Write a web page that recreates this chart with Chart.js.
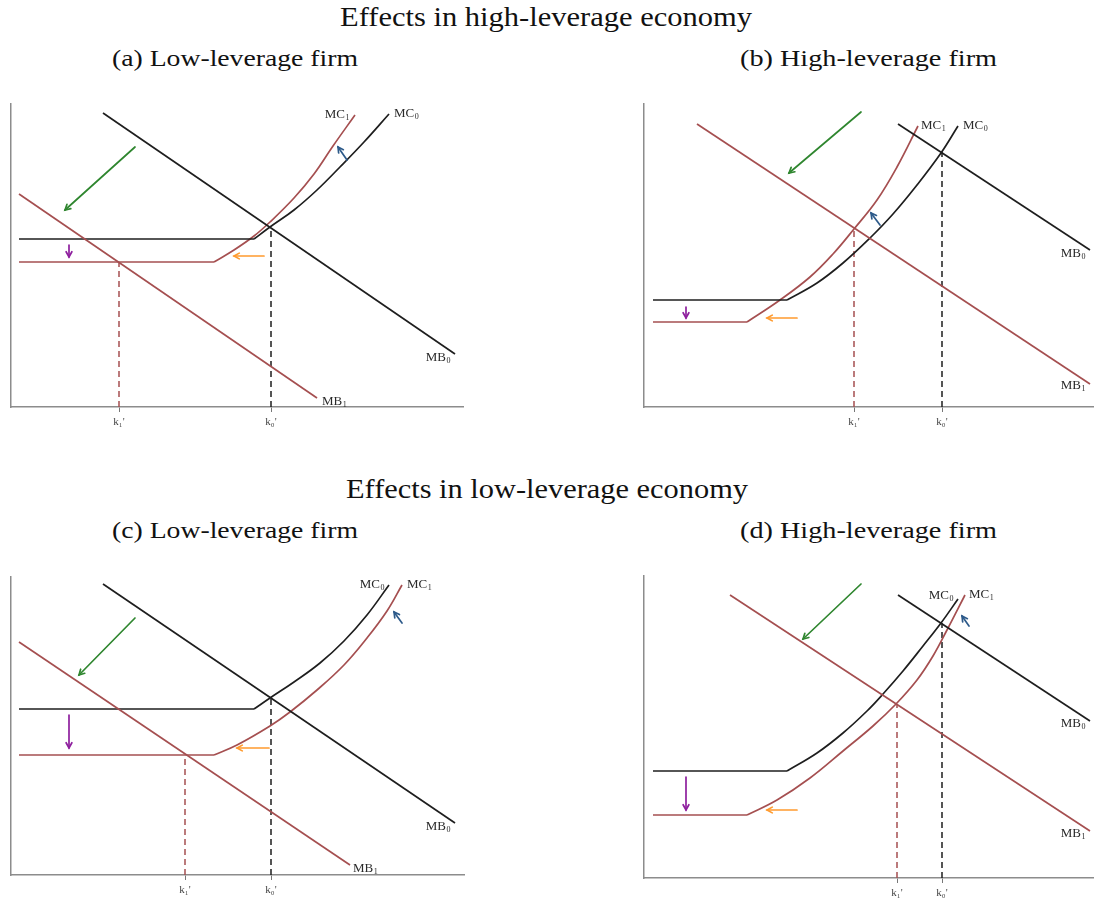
<!DOCTYPE html>
<html>
<head>
<meta charset="utf-8">
<script src="https://cdn.jsdelivr.net/npm/chart.js@4.4.1/dist/chart.umd.min.js"></script>
<style>
  html, body { margin: 0; padding: 0; background: #fff; }
  body { width: 1094px; height: 905px; overflow: hidden; position: relative; font-family: "Liberation Serif", serif; color: #111; }
  .t { position: absolute; white-space: nowrap; line-height: 1; transform-origin: left top; }
  canvas { position: absolute; }
</style>
</head>
<body>
<script>
// ---- values (x: capital k, y: marginal cost/benefit, arbitrary units) ----
const kNames = ["k\u2081'", "k\u2080'"];

// (a) high-leverage economy, low-leverage firm
const mb0A = [[92, 294], [444, 53]];
const mb1A = [[8, 213], [306, 9]];
const mc0A = [[8, 168], [243, 168], [259, 180], [283, 197], [306, 217], [329, 240], [353, 265], [378, 293]];
const mc1A = [[8, 145], [203, 145], [223, 157], [243, 171], [259, 185], [283, 209], [303, 233], [322, 261], [344, 292]];
const kA = [108, 260];
const kLevelA = [145, 180];
const arrowsA = [[124, 260, 54, 197], [58, 162, 58, 150], [253, 151, 223, 151], [336, 247, 327, 260]];

// (b) high-leverage economy, high-leverage firm
const mb0B = [[254, 283], [446, 157]];
const mb1B = [[53, 283], [446, 23]];
const mc0B = [[9, 107], [143, 107], [173, 124], [199, 144], [226, 169], [249, 193], [273, 222], [297, 254], [314, 281]];
const mc1B = [[9, 85], [103, 85], [136, 107], [166, 130], [189, 153], [210, 178], [233, 207], [253, 240], [274, 281]];
const kB = [210, 298];
const kLevelB = [178, 255];
const arrowsB = [[217, 295, 145, 234], [42, 100, 42, 89], [153, 89, 123, 89], [236, 182, 227, 194]];

// (c) low-leverage economy, low-leverage firm
const mb0C = [[92, 291], [444, 52]];
const mb1C = [[8, 233], [339, 10]];
const mc0C = [[8, 166], [243, 166], [259, 177], [283, 193], [309, 212], [333, 234], [356, 260], [378, 290]];
const mc1C = [[8, 120], [203, 120], [226, 130], [259, 149], [279, 163], [306, 185], [333, 210], [356, 237], [376, 264], [391, 290]];
const kC = [174, 260];
const kLevelC = [120, 177];
const arrowsC = [[124, 257, 68, 200], [58, 160, 58, 127], [258, 127, 226, 127], [391, 252, 383, 263]];

// (d) low-leverage economy, high-leverage firm
const mb0D = [[254, 283], [446, 157]];
const mb1D = [[86, 283], [446, 47]];
const mc0D = [[9, 107], [143, 107], [173, 125], [199, 145], [223, 167], [239, 184], [259, 207], [279, 232], [297, 255], [314, 279]];
const mc1D = [[9, 63], [103, 63], [133, 78], [166, 100], [199, 127], [229, 152], [252, 174], [273, 198], [289, 222], [303, 248], [321, 283]];
const kD = [253, 298];
const kLevelD = [174, 255];
const arrowsD = [[217, 294, 159, 239], [42, 101, 42, 68], [153, 68, 123, 68], [325, 252, 318, 262]];

// ---- styles ----
const BLACK = '#1e1e1e';
const RED = '#a54f50';
const ARROW_COLORS = ['#2f862f', '#8e1f9e', '#ff9a2e', '#2d5a8a']; // shift of MB, drop, leftward, upward
const AXIS = '#8c8c8c';
const LABEL_FONT = '"Liberation Serif", serif';

const titles = [
  ["Effects in high-leverage economy", 546, 17.5, 412, 27],
  ["(a) Low-leverage firm", 235, 58, 246, 24],
  ["(b) High-leverage firm", 868.5, 58, 257, 24],
  ["Effects in low-leverage economy", 547, 489, 402, 27],
  ["(c) Low-leverage firm", 235, 530, 246, 24],
  ["(d) High-leverage firm", 868.5, 530, 257, 24]
];

titles.forEach(([text, cx, cy, w, size]) => {
  const el = document.createElement('div');
  el.className = 't';
  el.textContent = text;
  el.style.fontSize = size + 'px';
  document.body.appendChild(el);
  const natural = el.getBoundingClientRect().width;
  el.style.transform = 'scaleX(' + (w / natural) + ')';
  el.style.left = (cx - w / 2) + 'px';
  el.style.top = (cy - size * 0.5) + 'px';
});

function pts(a) {
  return a.map(p => ({ x: p[0], y: p[1] }));
}

function line(data, color, extra) {
  return Object.assign({
    data: pts(data),
    borderColor: color,
    borderWidth: 1.7,
    pointRadius: 0,
    tension: 0,
    fill: false
  }, extra || {});
}

// arrows and the MB/MC labels, placed through the chart's own scales
function annotPlugin(arrows, labels) {
  return {
    id: 'annot',
    afterDatasetsDraw(chart) {
      const { ctx, scales: { x, y } } = chart;
      ctx.save();
      arrows.forEach((a, i) => {
        const x1 = x.getPixelForValue(a[0]), y1 = y.getPixelForValue(a[1]);
        const x2 = x.getPixelForValue(a[2]), y2 = y.getPixelForValue(a[3]);
        const ang = Math.atan2(y2 - y1, x2 - x1);
        const h = 6;
        ctx.strokeStyle = ARROW_COLORS[i];
        ctx.lineWidth = 1.7;
        ctx.lineCap = 'round';
        ctx.beginPath();
        ctx.moveTo(x1, y1);
        ctx.lineTo(x2, y2);
        ctx.stroke();
        ctx.beginPath();
        ctx.moveTo(x2 - h * Math.cos(ang - 0.5), y2 - h * Math.sin(ang - 0.5));
        ctx.lineTo(x2, y2);
        ctx.lineTo(x2 - h * Math.cos(ang + 0.5), y2 - h * Math.sin(ang + 0.5));
        ctx.stroke();
      });
      ctx.fillStyle = '#2a2a2a';
      ctx.textBaseline = 'middle';
      labels.forEach(l => {
        const end = l.series[l.series.length - 1];
        const px = x.getPixelForValue(end[0]) + l.dx;
        const py = y.getPixelForValue(end[1]) + l.dy;
        ctx.font = '13px ' + LABEL_FONT;
        const bw = ctx.measureText(l.base).width;
        ctx.font = '8px ' + LABEL_FONT;
        const sw = ctx.measureText(l.sub).width;
        const sx = l.align === 'right' ? px - bw - sw : px;
        ctx.font = '13px ' + LABEL_FONT;
        ctx.fillText(l.base, sx, py);
        ctx.font = '8px ' + LABEL_FONT;
        ctx.fillText(l.sub, sx + bw + 0.5, py + 3);
      });
      ctx.restore();
    }
  };
}

function panel(box, mb0, mb1, mc0, mc1, ks, kLevels, arrows, labels) {
  const pad = { left: 10, top: 14, right: 17, bottom: 3 };
  const canvas = document.createElement('canvas');
  const w = box.xMax + pad.left + pad.right;
  const h = box.yMax + pad.top + 30 + pad.bottom;
  canvas.width = w;
  canvas.height = h;
  canvas.style.width = w + 'px';
  canvas.style.height = h + 'px';
  canvas.style.left = (box.left - pad.left) + 'px';
  canvas.style.top = (box.bottom - box.yMax - pad.top) + 'px';
  document.body.appendChild(canvas);

  const datasets = [
    line(mb0, BLACK),
    line(mb1, RED),
    line(mc0.slice(0, 2), BLACK),
    line(mc0.slice(1), BLACK, { tension: 0.4 }),
    line(mc1.slice(0, 2), RED),
    line(mc1.slice(1), RED, { tension: 0.4 }),
    line([[ks[0], 0], [ks[0], kLevels[0]]], RED, { borderDash: [6, 4], borderWidth: 1.5 }),
    line([[ks[1], 0], [ks[1], kLevels[1]]], BLACK, { borderDash: [6, 4], borderWidth: 1.5 })
  ];

  new Chart(canvas, {
    type: 'line',
    data: { datasets },
    options: {
      responsive: false,
      animation: false,
      events: [],
      layout: { padding: pad },
      plugins: { legend: { display: false }, tooltip: { enabled: false } },
      scales: {
        x: {
          type: 'linear',
          min: 0,
          max: box.xMax,
          afterFit: s => { s.height = 30; },
          afterBuildTicks: s => { s.ticks = ks.map(v => ({ value: v })); },
          ticks: {
            autoSkip: false,
            maxRotation: 0,
            padding: 4,
            color: '#444',
            font: { family: 'Liberation Serif', size: 11 },
            callback: (v, i) => kNames[i]
          },
          grid: { drawOnChartArea: false, drawTicks: true, tickLength: 5, color: '#777', lineWidth: 1 },
          border: { color: AXIS, width: 1.5 }
        },
        y: {
          type: 'linear',
          min: 0,
          max: box.yMax,
          afterFit: s => { s.width = 0; },
          ticks: { display: false },
          grid: { display: false },
          border: { color: AXIS, width: 1.5 }
        }
      }
    },
    plugins: [annotPlugin(arrows, labels)]
  });
}

function lbl(series, base, sub, align, dx, dy) {
  return { series, base, sub, align, dx, dy };
}

panel({ left: 10.7, bottom: 407, xMax: 452, yMax: 303 }, mb0A, mb1A, mc0A, mc1A, kA, kLevelA, arrowsA, [
  lbl(mc1A, 'MC', '1', 'right', -6, 0),
  lbl(mc0A, 'MC', '0', 'left', 5, 0),
  lbl(mb0A, 'MB', '0', 'right', -5, 4),
  lbl(mb1A, 'MB', '1', 'left', 5, 4)
]);

panel({ left: 644, bottom: 406.7, xMax: 449, yMax: 303 }, mb0B, mb1B, mc0B, mc1B, kB, kLevelB, arrowsB, [
  lbl(mc1B, 'MC', '1', 'left', 3, 0),
  lbl(mc0B, 'MC', '0', 'left', 5, 0),
  lbl(mb0B, 'MB', '0', 'right', -5, 4),
  lbl(mb1B, 'MB', '1', 'right', -5, 2)
]);

panel({ left: 10.7, bottom: 875, xMax: 453, yMax: 298 }, mb0C, mb1C, mc0C, mc1C, kC, kLevelC, arrowsC, [
  lbl(mc0C, 'MC', '0', 'right', -5, 0),
  lbl(mc1C, 'MC', '1', 'left', 5, 0),
  lbl(mb0C, 'MB', '0', 'right', -5, 4),
  lbl(mb1C, 'MB', '1', 'left', 3, 4)
]);

panel({ left: 644, bottom: 878.3, xMax: 449, yMax: 302 }, mb0D, mb1D, mc0D, mc1D, kD, kLevelD, arrowsD, [
  lbl(mc0D, 'MC', '0', 'right', -5, -3),
  lbl(mc1D, 'MC', '1', 'left', 4, 0),
  lbl(mb0D, 'MB', '0', 'right', -5, 3),
  lbl(mb1D, 'MB', '1', 'right', -5, 3)
]);
</script>
</body>
</html>
